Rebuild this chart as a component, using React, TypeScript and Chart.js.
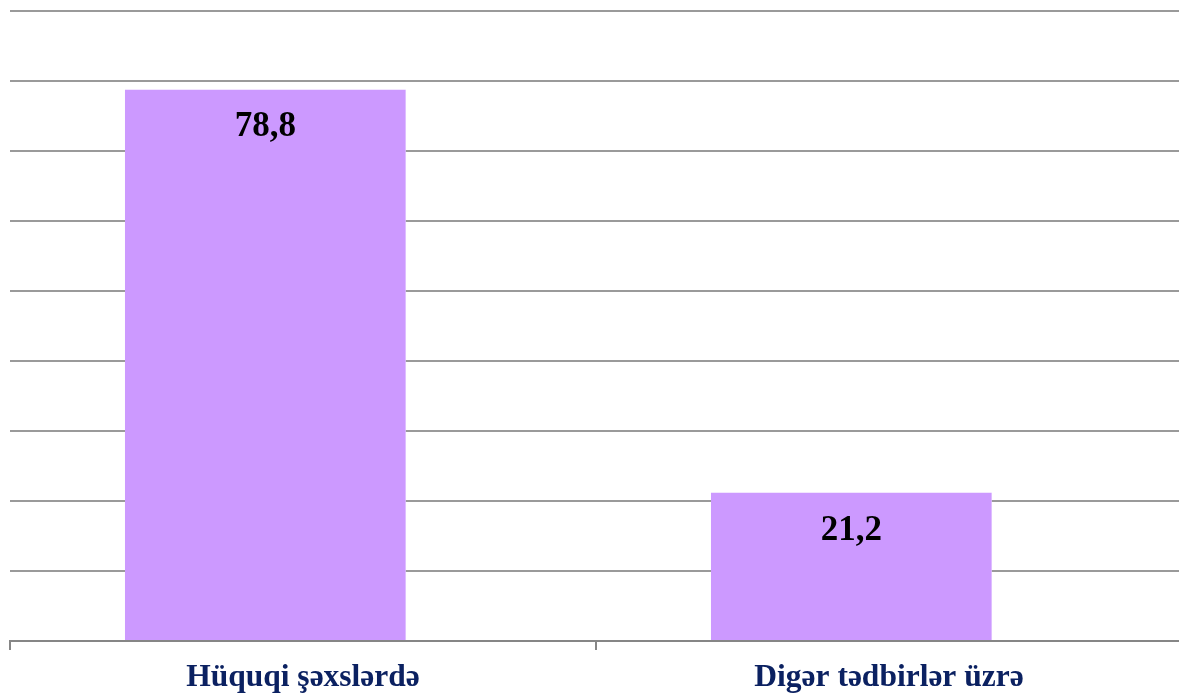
import React, { useEffect, useRef } from "react";
import { Chart, registerables } from "chart.js";

Chart.register(...registerables);

const categories = ["Hüquqi şəxslərdə", "Digər tədbirlər üzrə"];
const values = [78.8, 21.2];
const emptySeries = [null, null];
const valueLabels = ["78,8", "21,2"];
const yMax = 90;
const yStep = 10;

const labelPlugin = {
  id: "valueLabels",
  afterDatasetsDraw(chart: any) {
    const ctx = chart.ctx;
    const meta = chart.getDatasetMeta(0);
    ctx.save();
    ctx.font = "bold 35px 'Liberation Serif', 'Times New Roman', serif";
    ctx.fillStyle = "#000000";
    ctx.textAlign = "center";
    ctx.textBaseline = "middle";
    meta.data.forEach((bar: any, i: number) => {
      ctx.fillText(valueLabels[i], bar.x, bar.y + 38);
    });
    ctx.restore();
  },
};

export default function App() {
  const ref = useRef<HTMLCanvasElement | null>(null);
  useEffect(() => {
    if (!ref.current) return;
    const chart = new Chart(ref.current, {
      type: "bar",
      data: {
        labels: categories,
        datasets: [
          {
            data: values,
            backgroundColor: "#CC99FF",
            borderColor: "#DDBBFF",
            borderWidth: { right: 1 },
            barPercentage: 3.75,
            categoryPercentage: 0.256,
          },
          {
            data: emptySeries,
            backgroundColor: "#CC99FF",
            borderWidth: 0,
            barPercentage: 3.75,
            categoryPercentage: 0.256,
          },
        ],
      },
      options: {
        animation: false,
        responsive: true,
        maintainAspectRatio: false,
        layout: { padding: { left: 10, right: 0, top: 11, bottom: 0 } },
        plugins: { legend: { display: false }, tooltip: { enabled: false } },
        scales: {
          x: {
            grid: {
              offset: true,
              drawOnChartArea: false,
              drawTicks: true,
              tickLength: 9,
              color: "#868686",
              lineWidth: 2,
            },
            border: { display: true, color: "#868686", width: 2 },
            ticks: {
              color: "#0B2161",
              padding: 9,
              font: { family: "'Liberation Serif', 'Times New Roman', serif", size: 31.5, weight: "bold" },
            },
            afterFit: (scale: any) => {
              scale.height = 58;
            },
          },
          y: {
            min: 0,
            max: yMax,
            ticks: { stepSize: yStep, display: false },
            grid: { color: "#9a9a9a", lineWidth: 2, drawTicks: false },
            border: { display: false },
            afterFit: (scale: any) => {
              scale.width = 0;
            },
          },
        },
      },
      plugins: [labelPlugin],
    });
    return () => chart.destroy();
  }, []);
  return (
    <div style={{ position: "fixed", left: 0, top: 0, width: "1179px", height: "699px", overflow: "hidden", background: "#fff" }}>
      <div style={{ position: "relative", width: "1182px", height: "699px" }}>
        <canvas ref={ref} />
      </div>
    </div>
  );
}
